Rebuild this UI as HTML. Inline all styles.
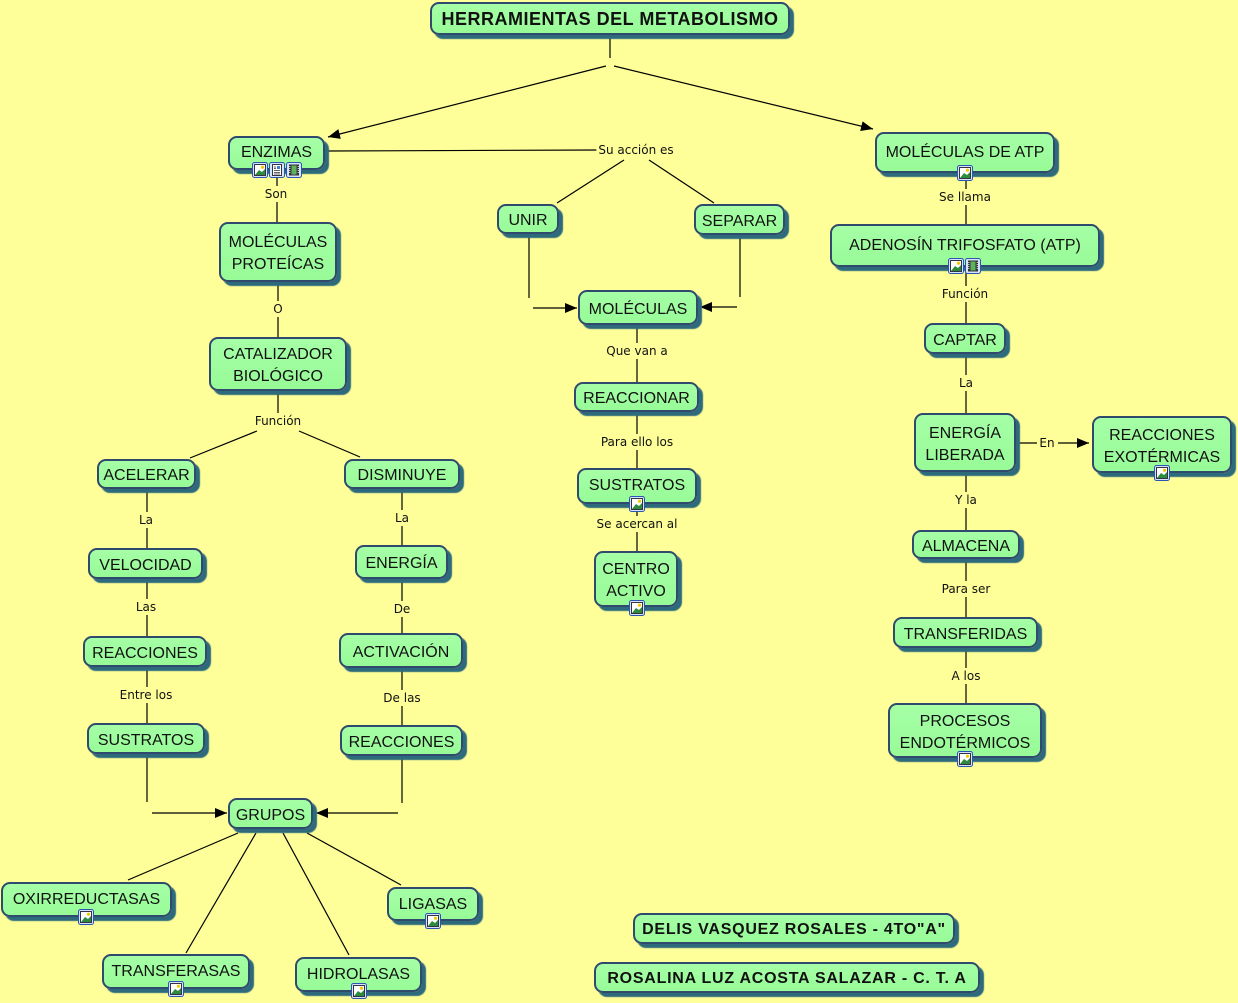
<!DOCTYPE html>
<html><head><meta charset="utf-8">
<style>
html,body{margin:0;padding:0;}
body{width:1238px;height:1003px;background:#ffff99;position:relative;overflow:hidden;font-family:"Liberation Sans",sans-serif;}
svg.lines{position:absolute;left:0;top:0;}
.n{position:absolute;box-sizing:border-box;border:2px solid #2f4a6c;border-radius:9px;background:linear-gradient(#a6ffa6,#97fb97);box-shadow:4px 4px 1px #2c6a7c;display:flex;align-items:center;justify-content:center;text-align:center;font-size:16px;line-height:22px;color:#111;white-space:nowrap;padding-top:4px;}
.b{font-weight:bold;font-size:18px;letter-spacing:0.5px;padding-top:0;}
.a{font-weight:bold;font-size:16px;letter-spacing:0.75px;padding-top:2px;}
.l{position:absolute;transform:translate(-50%,-50%);font-family:"DejaVu Sans",sans-serif;font-size:12px;background:#ffff99;padding:1px 2px;color:#111;white-space:nowrap;line-height:14px;}
.i{position:absolute;width:16px;height:16px;}
</style></head><body>
<svg class="lines" width="1238" height="1003" viewBox="0 0 1238 1003">
<defs><marker id="ar" viewBox="0 0 12 10" refX="12" refY="5" markerWidth="12" markerHeight="10" markerUnits="userSpaceOnUse" orient="auto"><path d="M0,0 L12,5 L0,10 z" fill="#000"/></marker></defs>
<g stroke="#000" stroke-width="1.2" fill="none">
<line x1="610" y1="36" x2="610" y2="58"/>
<line x1="606" y1="66" x2="328" y2="137" marker-end="url(#ar)"/>
<line x1="614" y1="66" x2="873" y2="129" marker-end="url(#ar)"/>
<line x1="326" y1="151" x2="600" y2="150"/>
<line x1="624" y1="160" x2="557" y2="203"/>
<line x1="649" y1="160" x2="714" y2="203"/>
<line x1="529" y1="234" x2="529" y2="298"/>
<line x1="533" y1="308" x2="577" y2="308" marker-end="url(#ar)"/>
<line x1="740" y1="235" x2="740" y2="297"/>
<line x1="737" y1="307" x2="700" y2="307" marker-end="url(#ar)"/>
<line x1="637" y1="325" x2="637" y2="382"/>
<line x1="637" y1="412" x2="637" y2="468"/>
<line x1="637" y1="510" x2="637" y2="551"/>
<line x1="277" y1="176" x2="277" y2="222"/>
<line x1="278" y1="282" x2="278" y2="337"/>
<line x1="278" y1="391" x2="278" y2="414"/>
<line x1="257" y1="431" x2="190" y2="458"/>
<line x1="299" y1="431" x2="360" y2="457"/>
<line x1="147" y1="489" x2="147" y2="548"/>
<line x1="147" y1="579" x2="147" y2="636"/>
<line x1="147" y1="667" x2="147" y2="723"/>
<line x1="147" y1="754" x2="147" y2="802"/>
<line x1="152" y1="813" x2="227" y2="813" marker-end="url(#ar)"/>
<line x1="402" y1="489" x2="402" y2="545"/>
<line x1="402" y1="579" x2="402" y2="633"/>
<line x1="402" y1="668" x2="402" y2="725"/>
<line x1="402" y1="756" x2="402" y2="803"/>
<line x1="398" y1="813" x2="316" y2="813" marker-end="url(#ar)"/>
<line x1="238" y1="833" x2="128" y2="880"/>
<line x1="256" y1="833" x2="186" y2="953"/>
<line x1="283" y1="833" x2="349" y2="955"/>
<line x1="307" y1="833" x2="401" y2="885"/>
<line x1="966" y1="173" x2="966" y2="224"/>
<line x1="966" y1="267" x2="966" y2="323"/>
<line x1="966" y1="354" x2="966" y2="413"/>
<line x1="966" y1="472" x2="966" y2="530"/>
<line x1="966" y1="559" x2="966" y2="617"/>
<line x1="966" y1="648" x2="966" y2="703"/>
<line x1="1016" y1="443" x2="1037" y2="443"/>
<line x1="1058" y1="443" x2="1089" y2="443" marker-end="url(#ar)"/>
</g>
</svg>

<div class="n b" style="left:430px;top:2px;width:360px;height:33px;">HERRAMIENTAS DEL METABOLISMO</div>

<div class="n" style="left:228px;top:136px;width:97px;height:34px;padding-bottom:4px;">ENZIMAS</div>
<div class="n" style="left:219px;top:222px;width:118px;height:60px;">MOLÉCULAS<br>PROTEÍCAS</div>
<div class="n" style="left:209px;top:337px;width:138px;height:54px;">CATALIZADOR<br>BIOLÓGICO</div>
<div class="n" style="left:97px;top:459px;width:99px;height:30px;">ACELERAR</div>
<div class="n" style="left:344px;top:459px;width:116px;height:30px;">DISMINUYE</div>
<div class="n" style="left:88px;top:548px;width:115px;height:31px;">VELOCIDAD</div>
<div class="n" style="left:83px;top:636px;width:124px;height:31px;">REACCIONES</div>
<div class="n" style="left:87px;top:723px;width:118px;height:31px;">SUSTRATOS</div>
<div class="n" style="left:355px;top:545px;width:93px;height:34px;">ENERGÍA</div>
<div class="n" style="left:339px;top:633px;width:124px;height:35px;">ACTIVACIÓN</div>
<div class="n" style="left:340px;top:725px;width:123px;height:31px;">REACCIONES</div>
<div class="n" style="left:228px;top:798px;width:85px;height:31px;">GRUPOS</div>
<div class="n" style="left:1px;top:882px;width:171px;height:35px;padding-bottom:3px;">OXIRREDUCTASAS</div>
<div class="n" style="left:102px;top:954px;width:148px;height:35px;padding-bottom:3px;">TRANSFERASAS</div>
<div class="n" style="left:295px;top:957px;width:127px;height:35px;padding-bottom:3px;">HIDROLASAS</div>
<div class="n" style="left:387px;top:887px;width:92px;height:34px;padding-bottom:3px;">LIGASAS</div>

<div class="n" style="left:497px;top:204px;width:62px;height:30px;">UNIR</div>
<div class="n" style="left:694px;top:204px;width:91px;height:31px;">SEPARAR</div>
<div class="n" style="left:578px;top:290px;width:120px;height:35px;">MOLÉCULAS</div>
<div class="n" style="left:574px;top:382px;width:125px;height:30px;">REACCIONAR</div>
<div class="n" style="left:577px;top:468px;width:120px;height:36px;padding-bottom:4px;">SUSTRATOS</div>
<div class="n" style="left:594px;top:551px;width:84px;height:56px;">CENTRO<br>ACTIVO</div>

<div class="n" style="left:875px;top:132px;width:180px;height:41px;padding-bottom:3px;">MOLÉCULAS DE ATP</div>
<div class="n" style="left:830px;top:224px;width:270px;height:43px;padding-bottom:3px;">ADENOSÍN TRIFOSFATO (ATP)</div>
<div class="n" style="left:924px;top:323px;width:82px;height:31px;">CAPTAR</div>
<div class="n" style="left:914px;top:413px;width:102px;height:59px;">ENERGÍA<br>LIBERADA</div>
<div class="n" style="left:1092px;top:416px;width:140px;height:57px;">REACCIONES<br>EXOTÉRMICAS</div>
<div class="n" style="left:912px;top:530px;width:108px;height:29px;">ALMACENA</div>
<div class="n" style="left:893px;top:617px;width:145px;height:31px;">TRANSFERIDAS</div>
<div class="n" style="left:888px;top:703px;width:154px;height:55px;">PROCESOS<br>ENDOTÉRMICOS</div>

<div class="n a" style="left:633px;top:913px;width:322px;height:31px;">DELIS VASQUEZ ROSALES - 4TO"A"</div>
<div class="n a" style="left:594px;top:962px;width:386px;height:31px;">ROSALINA LUZ ACOSTA SALAZAR - C. T. A</div>

<div class="l" style="left:636px;top:150px;">Su acción es</div>
<div class="l" style="left:276px;top:194px;">Son</div>
<div class="l" style="left:278px;top:309px;">O</div>
<div class="l" style="left:278px;top:421px;">Función</div>
<div class="l" style="left:146px;top:520px;">La</div>
<div class="l" style="left:146px;top:607px;">Las</div>
<div class="l" style="left:146px;top:695px;">Entre los</div>
<div class="l" style="left:402px;top:518px;">La</div>
<div class="l" style="left:402px;top:609px;">De</div>
<div class="l" style="left:402px;top:698px;">De las</div>
<div class="l" style="left:637px;top:351px;">Que van a</div>
<div class="l" style="left:637px;top:442px;">Para ello los</div>
<div class="l" style="left:637px;top:524px;">Se acercan al</div>
<div class="l" style="left:965px;top:197px;">Se llama</div>
<div class="l" style="left:965px;top:294px;">Función</div>
<div class="l" style="left:966px;top:383px;">La</div>
<div class="l" style="left:1047px;top:443px;">En</div>
<div class="l" style="left:966px;top:500px;">Y la</div>
<div class="l" style="left:966px;top:589px;">Para ser</div>
<div class="l" style="left:966px;top:676px;">A los</div>

<!-- icons -->
<svg class="i" style="left:252px;top:162px;" viewBox="0 0 16 16"><rect x="0.5" y="0.5" width="15" height="15" rx="2" fill="#d6e4ff" stroke="#2a55b0"/><rect x="2.5" y="2.5" width="11" height="11" fill="#fff" stroke="#334"/><path d="M3,13 L7,8 L10,10 L13,7 L13,13 z" fill="#2e8b3e"/><circle cx="10.5" cy="5.2" r="1.6" fill="#f2c800"/></svg>
<svg class="i" style="left:269px;top:162px;" viewBox="0 0 16 16"><rect x="0.5" y="0.5" width="15" height="15" rx="2" fill="#d6e4ff" stroke="#2a55b0"/><rect x="3.5" y="2.5" width="9" height="11" fill="#fff" stroke="#334"/><rect x="8" y="4" width="3" height="3" fill="#4a7ad0"/><path d="M5,8.5 H11 M5,10.5 H11 M5,12 H11 M5,5 H7 M5,6.5 H7" stroke="#333" stroke-width="0.8"/></svg>
<svg class="i" style="left:286px;top:162px;" viewBox="0 0 16 16"><rect x="0.5" y="0.5" width="15" height="15" rx="2" fill="#d6e4ff" stroke="#2a55b0"/><rect x="3" y="2.5" width="10" height="11" fill="#333"/><rect x="5.5" y="3.5" width="5" height="9" fill="#5cb35c"/><path d="M3.8,4 V12" stroke="#fff" stroke-width="1" stroke-dasharray="1 1"/><path d="M12.2,4 V12" stroke="#fff" stroke-width="1" stroke-dasharray="1 1"/></svg>

<svg class="i" style="left:957px;top:165px;" viewBox="0 0 16 16"><rect x="0.5" y="0.5" width="15" height="15" rx="2" fill="#d6e4ff" stroke="#2a55b0"/><rect x="2.5" y="2.5" width="11" height="11" fill="#fff" stroke="#334"/><path d="M3,13 L7,8 L10,10 L13,7 L13,13 z" fill="#2e8b3e"/><circle cx="10.5" cy="5.2" r="1.6" fill="#f2c800"/></svg>
<svg class="i" style="left:948px;top:258px;" viewBox="0 0 16 16"><rect x="0.5" y="0.5" width="15" height="15" rx="2" fill="#d6e4ff" stroke="#2a55b0"/><rect x="2.5" y="2.5" width="11" height="11" fill="#fff" stroke="#334"/><path d="M3,13 L7,8 L10,10 L13,7 L13,13 z" fill="#2e8b3e"/><circle cx="10.5" cy="5.2" r="1.6" fill="#f2c800"/></svg>
<svg class="i" style="left:965px;top:258px;" viewBox="0 0 16 16"><rect x="0.5" y="0.5" width="15" height="15" rx="2" fill="#d6e4ff" stroke="#2a55b0"/><rect x="3" y="2.5" width="10" height="11" fill="#333"/><rect x="5.5" y="3.5" width="5" height="9" fill="#5cb35c"/><path d="M3.8,4 V12" stroke="#fff" stroke-width="1" stroke-dasharray="1 1"/><path d="M12.2,4 V12" stroke="#fff" stroke-width="1" stroke-dasharray="1 1"/></svg>
<svg class="i" style="left:629px;top:496px;" viewBox="0 0 16 16"><rect x="0.5" y="0.5" width="15" height="15" rx="2" fill="#d6e4ff" stroke="#2a55b0"/><rect x="2.5" y="2.5" width="11" height="11" fill="#fff" stroke="#334"/><path d="M3,13 L7,8 L10,10 L13,7 L13,13 z" fill="#2e8b3e"/><circle cx="10.5" cy="5.2" r="1.6" fill="#f2c800"/></svg>
<svg class="i" style="left:629px;top:600px;" viewBox="0 0 16 16"><rect x="0.5" y="0.5" width="15" height="15" rx="2" fill="#d6e4ff" stroke="#2a55b0"/><rect x="2.5" y="2.5" width="11" height="11" fill="#fff" stroke="#334"/><path d="M3,13 L7,8 L10,10 L13,7 L13,13 z" fill="#2e8b3e"/><circle cx="10.5" cy="5.2" r="1.6" fill="#f2c800"/></svg>
<svg class="i" style="left:1154px;top:465px;" viewBox="0 0 16 16"><rect x="0.5" y="0.5" width="15" height="15" rx="2" fill="#d6e4ff" stroke="#2a55b0"/><rect x="2.5" y="2.5" width="11" height="11" fill="#fff" stroke="#334"/><path d="M3,13 L7,8 L10,10 L13,7 L13,13 z" fill="#2e8b3e"/><circle cx="10.5" cy="5.2" r="1.6" fill="#f2c800"/></svg>
<svg class="i" style="left:957px;top:751px;" viewBox="0 0 16 16"><rect x="0.5" y="0.5" width="15" height="15" rx="2" fill="#d6e4ff" stroke="#2a55b0"/><rect x="2.5" y="2.5" width="11" height="11" fill="#fff" stroke="#334"/><path d="M3,13 L7,8 L10,10 L13,7 L13,13 z" fill="#2e8b3e"/><circle cx="10.5" cy="5.2" r="1.6" fill="#f2c800"/></svg>
<svg class="i" style="left:78px;top:909px;" viewBox="0 0 16 16"><rect x="0.5" y="0.5" width="15" height="15" rx="2" fill="#d6e4ff" stroke="#2a55b0"/><rect x="2.5" y="2.5" width="11" height="11" fill="#fff" stroke="#334"/><path d="M3,13 L7,8 L10,10 L13,7 L13,13 z" fill="#2e8b3e"/><circle cx="10.5" cy="5.2" r="1.6" fill="#f2c800"/></svg>
<svg class="i" style="left:168px;top:981px;" viewBox="0 0 16 16"><rect x="0.5" y="0.5" width="15" height="15" rx="2" fill="#d6e4ff" stroke="#2a55b0"/><rect x="2.5" y="2.5" width="11" height="11" fill="#fff" stroke="#334"/><path d="M3,13 L7,8 L10,10 L13,7 L13,13 z" fill="#2e8b3e"/><circle cx="10.5" cy="5.2" r="1.6" fill="#f2c800"/></svg>
<svg class="i" style="left:351px;top:983px;" viewBox="0 0 16 16"><rect x="0.5" y="0.5" width="15" height="15" rx="2" fill="#d6e4ff" stroke="#2a55b0"/><rect x="2.5" y="2.5" width="11" height="11" fill="#fff" stroke="#334"/><path d="M3,13 L7,8 L10,10 L13,7 L13,13 z" fill="#2e8b3e"/><circle cx="10.5" cy="5.2" r="1.6" fill="#f2c800"/></svg>
<svg class="i" style="left:425px;top:913px;" viewBox="0 0 16 16"><rect x="0.5" y="0.5" width="15" height="15" rx="2" fill="#d6e4ff" stroke="#2a55b0"/><rect x="2.5" y="2.5" width="11" height="11" fill="#fff" stroke="#334"/><path d="M3,13 L7,8 L10,10 L13,7 L13,13 z" fill="#2e8b3e"/><circle cx="10.5" cy="5.2" r="1.6" fill="#f2c800"/></svg>
</body></html>
